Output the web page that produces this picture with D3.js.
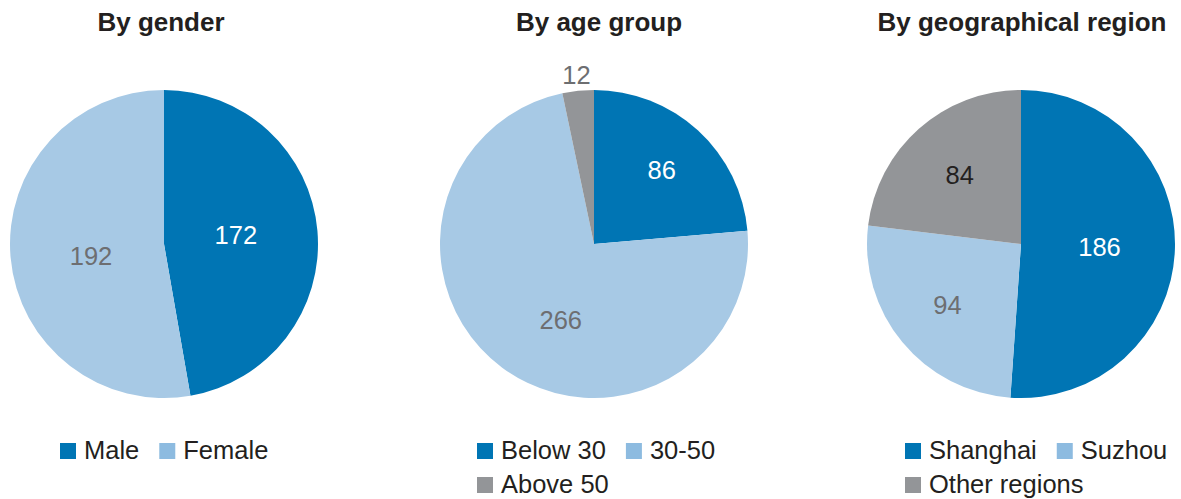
<!DOCTYPE html>
<html>
<head>
<meta charset="utf-8">
<script src="https://cdn.jsdelivr.net/npm/d3@7"></script>
<style>
  body { margin: 0; background: #fff; }
  svg { display: block; }
  text { font-family: "Liberation Sans", Arial, sans-serif; }
</style>
</head>
<body>
<svg id="chart" width="1181" height="499"></svg>
<script>
// values
var genderLabels = ["Male", "Female"];
var genderValues = [172, 192];

var ageLabels = ["Below 30", "30-50", "Above 50"];
var ageValues = [86, 266, 12];

var regionLabels = ["Shanghai", "Suzhou", "Other regions"];
var regionValues = [186, 94, 84];

var titles = ["By gender", "By age group", "By geographical region"];

var sliceColors = ["#0075b4", "#a7c9e5", "#939598"];
var legendColors = ["#0075b4", "#8dbbe0", "#939598"];
var labelColors = ["#ffffff", "#6d6e71", "#231f20"];

var svg = d3.select("#chart");
var r = 154;

// layout per chart: centre, title nudge, legend start, label radius per slice
// (negative radius = label outside the pie), label angle nudge in degrees
var charts = [
  { labels: genderLabels, values: genderValues, cx: 164, titleDx: -3, legendX: 60,
    labelR: [0.47, 0.48], labelDa: [-2, -4] },
  { labels: ageLabels, values: ageValues, cx: 594, titleDx: 5, legendX: 477,
    labelR: [0.65, 0.54, -1], labelDa: [0, -13, 0] },
  { labels: regionLabels, values: regionValues, cx: 1021, titleDx: 1, legendX: 905,
    labelR: [0.51, 0.62, 0.6], labelDa: [0, 0, 0] }
];
var cy = 244;

var pie = d3.pie().sort(null).value(function (d) { return d; });
var arc = d3.arc().innerRadius(0).outerRadius(r);

charts.forEach(function (c, ci) {
  var g = svg.append("g").attr("transform", "translate(" + c.cx + "," + cy + ")");

  svg.append("text")
    .attr("x", c.cx + c.titleDx)
    .attr("y", 31)
    .attr("text-anchor", "middle")
    .attr("font-size", "26px")
    .attr("font-weight", "bold")
    .attr("fill", "#231f20")
    .text(titles[ci]);

  var arcs = pie(c.values);

  g.selectAll("path")
    .data(arcs)
    .enter().append("path")
    .attr("d", arc)
    .attr("fill", function (d, i) { return sliceColors[i]; });

  g.selectAll("text.val")
    .data(arcs)
    .enter().append("text")
    .attr("class", "val")
    .attr("transform", function (d, i) {
      var k = c.labelR[i];
      var rr = k < 0 ? r + 16 : r * k;
      var a = (d.startAngle + d.endAngle) / 2 + c.labelDa[i] * Math.PI / 180;
      return "translate(" + (Math.sin(a) * rr) + "," + (-Math.cos(a) * rr) + ")";
    })
    .attr("text-anchor", "middle")
    .attr("dy", "0.36em")
    .attr("font-size", "25.5px")
    .attr("fill", function (d, i) { return c.labelR[i] < 0 ? "#6d6e71" : labelColors[i]; })
    .text(function (d) { return d.data; });

  // legend, two items per row
  var lg = svg.append("g");
  var x = c.legendX, row = 0;
  c.labels.forEach(function (name, i) {
    if (i > 0 && i % 2 === 0) { row++; x = c.legendX; }
    var y = 459 + row * 34;
    lg.append("rect")
      .attr("x", x).attr("y", y - 16)
      .attr("width", 16).attr("height", 16)
      .attr("fill", legendColors[i]);
    var t = lg.append("text")
      .attr("x", x + 24).attr("y", y)
      .attr("font-size", "25.5px")
      .attr("fill", "#231f20")
      .text(name);
    x += 24 + t.node().getComputedTextLength() + 20;
  });
});
</script>
</body>
</html>
